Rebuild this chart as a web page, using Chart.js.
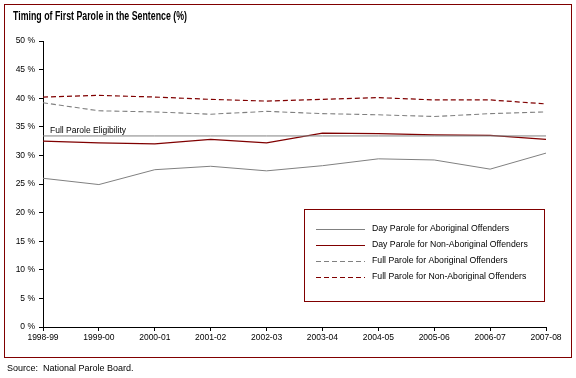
<!DOCTYPE html>
<html>
<head>
<meta charset="utf-8">
<script src="https://cdn.jsdelivr.net/npm/chart.js@4/dist/chart.umd.min.js"></script>
<style>
  html, body { margin: 0; padding: 0; background: #ffffff; }
  #wrap { width: 576px; height: 378px; }
</style>
</head>
<body>
<div id="wrap"><canvas id="c" width="576" height="378"></canvas></div>
<script>
const categories = ['1998-99','1999-00','2000-01','2001-02','2002-03','2003-04','2004-05','2005-06','2006-07','2007-08'];
const dayAboriginal = [26.0, 24.9, 27.5, 28.1, 27.3, 28.2, 29.4, 29.2, 27.6, 30.4];
const dayNonAboriginal = [32.5, 32.2, 32.0, 32.8, 32.2, 33.9, 33.8, 33.6, 33.5, 32.8];
const fullAboriginal = [39.2, 37.8, 37.6, 37.2, 37.7, 37.3, 37.1, 36.8, 37.3, 37.6];
const fullNonAboriginal = [40.2, 40.5, 40.2, 39.8, 39.5, 39.8, 40.1, 39.7, 39.7, 39.0];
const fullParoleEligibility = [33.4, 33.4, 33.4, 33.4, 33.4, 33.4, 33.4, 33.4, 33.4, 33.4];
const yTicks = [0, 5, 10, 15, 20, 25, 30, 35, 40, 45, 50];

const titleText = 'Timing of First Parole in the Sentence (%)';
const sourceText = 'Source:  National Parole Board.';
const eligibilityLabel = 'Full Parole Eligibility';

const GREY = '#808080';
const RED = '#800000';
const FONT = '"Liberation Sans", Arial, sans-serif';

const decor = {
  id: 'decor',
  afterDraw(chart) {
    const ctx = chart.ctx;
    ctx.save();
    // outer border
    ctx.strokeStyle = RED;
    ctx.lineWidth = 1;
    ctx.strokeRect(4.5, 4.5, 567, 353);

    // title (condensed bold)
    ctx.fillStyle = '#000';
    ctx.font = 'bold 12px ' + FONT;
    ctx.textBaseline = 'middle';
    ctx.textAlign = 'left';
    const tw = ctx.measureText(titleText).width;
    ctx.save();
    ctx.translate(13, 17);
    ctx.scale(174 / tw, 1);
    ctx.fillText(titleText, 0, 0);
    ctx.restore();

    // source
    ctx.font = '9px ' + FONT;
    ctx.fillText(sourceText, 7, 369);

    // eligibility label
    const ys = chart.scales.y;
    ctx.font = '8.5px ' + FONT;
    ctx.textBaseline = 'alphabetic';
    ctx.fillText(eligibilityLabel, 50, ys.getPixelForValue(fullParoleEligibility[0]) - 3);

    // legend box
    ctx.strokeStyle = RED;
    ctx.strokeRect(304.5, 209.5, 240, 92);
    const rows = [228.5, 244.5, 260.5, 277];
    ctx.font = '8.7px ' + FONT;
    ctx.textBaseline = 'middle';
    chart.data.datasets.filter(d => d.inLegend).forEach((d, i) => {
      ctx.strokeStyle = d.borderColor;
      ctx.lineWidth = 1;
      ctx.setLineDash(d.borderDash || []);
      ctx.beginPath();
      ctx.moveTo(316, Math.round(rows[i]) + 0.5);
      ctx.lineTo(365, Math.round(rows[i]) + 0.5);
      ctx.stroke();
      ctx.setLineDash([]);
      ctx.fillStyle = '#000';
      ctx.fillText(d.label, 372, rows[i]);
    });
    ctx.restore();
  }
};

new Chart(document.getElementById('c'), {
  type: 'line',
  data: {
    labels: categories,
    datasets: [
      { label: 'Full Parole Eligibility', data: fullParoleEligibility, borderColor: GREY, borderWidth: 1, inLegend: false },
      { label: 'Day Parole for Aboriginal Offenders', data: dayAboriginal, borderColor: GREY, borderWidth: 1, inLegend: true },
      { label: 'Day Parole for Non-Aboriginal Offenders', data: dayNonAboriginal, borderColor: RED, borderWidth: 1.3, inLegend: true },
      { label: 'Full Parole for Aboriginal Offenders', data: fullAboriginal, borderColor: GREY, borderWidth: 1.1, borderDash: [5, 3], inLegend: true },
      { label: 'Full Parole for Non-Aboriginal Offenders', data: fullNonAboriginal, borderColor: RED, borderWidth: 1.2, borderDash: [5, 3], inLegend: true }
    ]
  },
  options: {
    responsive: false,
    animation: false,
    layout: { padding: { left: 0, top: 41, right: 30, bottom: 0 } },
    elements: { point: { radius: 0 }, line: { tension: 0, fill: false } },
    plugins: { legend: { display: false }, title: { display: false }, tooltip: { enabled: false } },
    scales: {
      x: {
        offset: false,
        grid: { display: true, drawOnChartArea: false, drawTicks: true, tickLength: 4, color: '#000' },
        border: { display: true, color: '#000', width: 1 },
        ticks: { color: '#000', font: { family: FONT, size: 8.5 }, padding: 2, maxRotation: 0, autoSkip: false },
        afterFit(s) { s.height = 51; }
      },
      y: {
        min: 0, max: 50,
        afterBuildTicks(s) { s.ticks = yTicks.map(v => ({ value: v })); },
        grid: { display: true, drawOnChartArea: false, drawTicks: true, tickLength: 4, color: '#000' },
        border: { display: true, color: '#000', width: 1 },
        ticks: { color: '#000', font: { family: FONT, size: 8.5 }, padding: 4, callback: v => v + ' %' },
        afterFit(s) { s.width = 43; }
      }
    }
  },
  plugins: [decor]
});
</script>
</body>
</html>
